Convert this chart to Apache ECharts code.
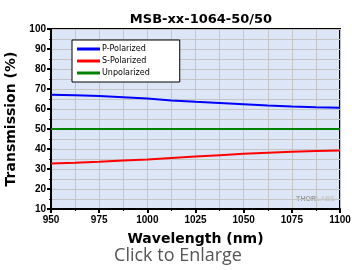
<!DOCTYPE html>
<html>
<head>
<meta charset="utf-8">
<script src="https://cdn.jsdelivr.net/npm/echarts@6/dist/echarts.min.js"></script>
<style>
  html, body { margin: 0; padding: 0; background: #fff; }
  #main { width: 352px; height: 270px; }
</style>
</head>
<body>
<div id="main"></div>
<script>
// wavelength (nm)
var wavelengths = [950, 962.5, 975, 987.5, 1000, 1012.5, 1025, 1037.5, 1050, 1062.5, 1075, 1087.5, 1100];
// transmission (%)
var pPolarized = [67.1, 66.9, 66.5, 65.9, 65.2, 64.3, 63.6, 63.0, 62.4, 61.8, 61.3, 60.9, 60.6];
var sPolarized = [32.8, 33.1, 33.6, 34.2, 34.8, 35.5, 36.2, 36.9, 37.6, 38.1, 38.6, 39.0, 39.3];
var unpolarized = [50, 50, 50, 50, 50, 50, 50, 50, 50, 50, 50, 50, 50];
var seriesNames = ['P-Polarized', 'S-Polarized', 'Unpolarized'];
var lineColor = ['#0000ff', '#ff0000', '#008000'];

function pairs(vals) {
    return wavelengths.map(function (w, i) { return [w, vals[i]]; });
}

var myChart = echarts.init(document.getElementById('main'));
var font = 'Liberation Sans, Arial, sans-serif';
var wideFont = 'DejaVu Sans, sans-serif';

var series = [pPolarized, sPolarized, unpolarized].map(function (vals, i) {
    return {
        name: seriesNames[i],
        type: 'line',
        data: pairs(vals),
        symbol: 'none',
        lineStyle: { color: lineColor[i], width: 2 },
        itemStyle: { color: lineColor[i] }
    };
});

var option = {
    animation: false,
    title: {
        text: 'MSB-xx-1064-50/50',
        left: 196,
        textAlign: 'center',
        top: 8,
        textStyle: { fontFamily: wideFont, fontSize: 13, fontWeight: 'bold', color: '#000' }
    },
    grid: {
        left: 51, right: 12, top: 29, bottom: 61,
        outerBoundsMode: 'none',
        containLabel: false,
        show: true,
        backgroundColor: '#dce6f7',
        borderColor: '#000',
        borderWidth: 2
    },
    legend: {
        data: seriesNames,
        orient: 'vertical',
        left: 72, top: 40,
        backgroundColor: '#fff',
        borderColor: '#000',
        borderWidth: 1,
        borderRadius: 0,
        padding: [5, 30, 5, 5],
        itemWidth: 23,
        itemHeight: 3,
        itemGap: 4,
        icon: 'rect',
        textStyle: { fontFamily: wideFont, fontSize: 8, color: '#000', padding: [0, 0, 0, -3] }
    },
    xAxis: {
        type: 'value',
        min: 950, max: 1100, interval: 25,
        name: 'Wavelength (nm)',
        nameLocation: 'middle',
        nameGap: 23,
        nameTextStyle: { fontFamily: wideFont, fontSize: 14, fontWeight: 'bold', color: '#000' },
        axisLine: { lineStyle: { color: '#000', width: 2 } },
        axisTick: { length: 4, lineStyle: { color: '#000', width: 2 } },
        minorTick: { show: true, splitNumber: 2, length: 2, lineStyle: { color: '#000' } },
        axisLabel: {
            fontFamily: font, fontSize: 10, fontWeight: 'bold', color: '#000', margin: 6,
            formatter: function (v) { return String(v); }
        },
        splitLine: { lineStyle: { color: '#c4c4c4', width: 1 } },
        minorSplitLine: { show: true, lineStyle: { color: '#c4c4c4', width: 1 } }
    },
    yAxis: {
        type: 'value',
        min: 10, max: 100, interval: 10,
        name: 'Transmission (%)',
        nameLocation: 'middle',
        nameGap: 28,
        nameTextStyle: { fontFamily: wideFont, fontSize: 14, fontWeight: 'bold', color: '#000' },
        axisLine: { show: true, lineStyle: { color: '#000', width: 2 } },
        axisTick: { show: true, length: 4, lineStyle: { color: '#000', width: 2 } },
        minorTick: { show: true, splitNumber: 2, length: 2, lineStyle: { color: '#000' } },
        axisLabel: { fontFamily: font, fontSize: 10, fontWeight: 'bold', color: '#000', margin: 5 },
        splitLine: { lineStyle: { color: '#c4c4c4', width: 1 } },
        minorSplitLine: { show: true, lineStyle: { color: '#c4c4c4', width: 1 } }
    },
    graphic: [
        {
            type: 'text', right: 17, top: 196,
            style: {
                text: '{a|THOR}{b|LABS}',
                rich: {
                    a: { fontFamily: font, fontSize: 7, fontWeight: 'bold', fill: '#9a9a9a' },
                    b: { fontFamily: font, fontSize: 7, fontWeight: 'bold', fill: '#c8c8c8' }
                }
            }
        },
        {
            type: 'text', x: 178, y: 247,
            style: {
                text: 'Click to Enlarge',
                align: 'center',
                fontFamily: 'Open Sans, Noto Sans, sans-serif',
                fontSize: 18,
                fill: '#555'
            }
        }
    ],
    series: series
};

myChart.setOption(option);
</script>
</body>
</html>
